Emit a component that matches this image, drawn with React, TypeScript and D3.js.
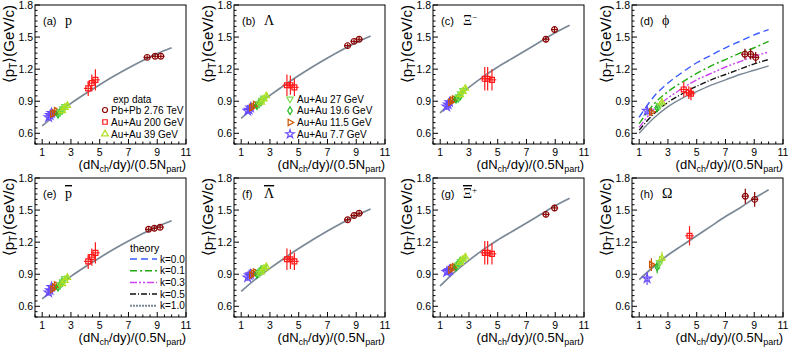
import React, { useEffect, useRef } from 'react';
import * as d3 from 'd3';

// theory curves, read at dNch/dy/(0.5Npart) = 1..10
const xCurve = [1, 2, 3, 4, 5, 6, 7, 8, 9, 10];
const curveP = [0.67, 0.78, 0.88, 0.97, 1.055, 1.135, 1.21, 1.28, 1.345, 1.4];
const curveLam = [0.74, 0.855, 0.955, 1.05, 1.14, 1.225, 1.305, 1.38, 1.45, 1.51];
const curveXi = [0.79, 0.92, 1.03, 1.13, 1.22, 1.3, 1.38, 1.46, 1.54, 1.61];
const curveOmega = [0.85, 0.97, 1.08, 1.17, 1.26, 1.35, 1.44, 1.52, 1.61, 1.69];
const phiK00 = [0.75, 0.94, 1.07, 1.17, 1.26, 1.33, 1.4, 1.46, 1.52, 1.57];
const phiK01 = [0.69, 0.87, 0.99, 1.08, 1.16, 1.23, 1.29, 1.35, 1.4, 1.46];
const phiK03 = [0.655, 0.82, 0.93, 1.02, 1.1, 1.16, 1.22, 1.27, 1.32, 1.36];
const phiK05 = [0.63, 0.78, 0.89, 0.97, 1.04, 1.1, 1.15, 1.2, 1.25, 1.29];
const phiK10 = [0.6, 0.74, 0.85, 0.93, 0.99, 1.05, 1.1, 1.15, 1.19, 1.23];

const kLabels = ['k=0.0', 'k=0.1', 'k=0.3', 'k=0.5', 'k=1.0'];
const kColors = ['#3a5cff', '#22aa11', '#cc44ee', '#111111', '#7a8896'];
const kDash = ['7,4', '7,3,2,3', '7,2,2,2,2,2', '6,2,1,2', '2,1'];

// panels a..h
const panelTags = ['(a)', '(b)', '(c)', '(d)', '(e)', '(f)', '(g)', '(h)'];
const particleNames = ['p', 'Λ', 'Ξ', 'ϕ', 'p', 'Λ', 'Ξ', 'Ω'];
const particleCharge = ['', '', '−', '', '', '', '+', ''];
const particleAnti = [false, false, false, false, true, true, true, false];
const panelCurves = [curveP, curveLam, curveXi, null, curveP, curveLam, curveXi, curveOmega];
const phiCurves = [phiK00, phiK01, phiK03, phiK05, phiK10];

// Pb+Pb 2.76 TeV : [x, <pT>, err]
const pbpbPoints = [
  [[8.3, 1.31, 0.02], [8.85, 1.32, 0.02], [9.25, 1.32, 0.02]],
  [[8.4, 1.42, 0.02], [8.85, 1.46, 0.02], [9.2, 1.48, 0.02]],
  [[8.35, 1.48, 0.03], [8.95, 1.57, 0.03]],
  [[8.35, 1.34, 0.05], [8.75, 1.34, 0.05], [9.1, 1.31, 0.05]],
  [[8.4, 1.32, 0.02], [8.8, 1.33, 0.02], [9.2, 1.34, 0.02]],
  [[8.4, 1.41, 0.02], [8.85, 1.45, 0.02], [9.2, 1.47, 0.02]],
  [[8.35, 1.46, 0.03], [8.95, 1.52, 0.03]],
  [[8.38, 1.63, 0.07], [9.03, 1.6, 0.07]],
];

// Au+Au 200 GeV : [x, <pT>, err]
const au200Points = [
  [[4.2, 1.02, 0.07], [4.45, 1.07, 0.08], [4.7, 1.1, 0.1]],
  [[4.18, 1.05, 0.1], [4.42, 1.05, 0.09], [4.7, 1.03, 0.08]],
  [[4.1, 1.11, 0.11], [4.3, 1.11, 0.11], [4.6, 1.1, 0.1]],
  [[4.1, 1.01, 0.07], [4.45, 0.98, 0.06], [4.6, 0.97, 0.06]],
  [[4.2, 1.02, 0.07], [4.45, 1.06, 0.08], [4.7, 1.1, 0.1]],
  [[4.18, 1.04, 0.1], [4.42, 1.04, 0.09], [4.7, 1.02, 0.08]],
  [[4.1, 1.1, 0.11], [4.3, 1.1, 0.11], [4.6, 1.09, 0.1]],
  [[4.5, 1.26, 0.09]],
];

// BES energies: 7.7, 11.5, 19.6, 27, 39 GeV
const besLabels = ['Au+Au 7.7 GeV', 'Au+Au 11.5 GeV', 'Au+Au 19.6 GeV', 'Au+Au 27 GeV', 'Au+Au 39 GeV'];
const besColors = ['#6a4cff', '#cc5500', '#22bb22', '#7fdd55', '#aee020'];
const besX = [
  [1.45, 1.55, 1.65],
  [1.72, 1.85, 1.98],
  [2.1, 2.25, 2.4],
  [2.25, 2.42, 2.58],
  [2.4, 2.58, 2.75],
];
const besY = [
  [[0.75, 0.77, 0.79], [0.78, 0.79, 0.81], [0.78, 0.8, 0.82], [0.8, 0.83, 0.85], [0.81, 0.84, 0.86]],
  [[0.81, 0.82, 0.84], [0.84, 0.85, 0.87], [0.86, 0.88, 0.9], [0.88, 0.91, 0.93], [0.89, 0.92, 0.95]],
  [[0.85, 0.87, 0.89], [0.89, 0.91, 0.92], [0.92, 0.93, 0.95], [0.94, 0.97, 1.0], [0.96, 0.99, 1.02]],
  [[0.81], [0.8], [0.84], [0.86], [0.89]],
  [[0.73, 0.75, 0.78], [0.76, 0.78, 0.8], [0.78, 0.8, 0.83], [0.8, 0.83, 0.86], [0.81, 0.84, 0.87]],
  [[0.87, 0.89, 0.9], [0.89, 0.91, 0.92], [0.9, 0.92, 0.94], [0.91, 0.93, 0.96], [0.92, 0.95, 0.97]],
  [[0.92, 0.93, 0.94], [0.94, 0.96, 0.97], [0.97, 1.0, 1.02], [0.99, 1.02, 1.04], [1.01, 1.04, 1.06]],
  [[0.86], [0.99], [0.97], [1.01], [1.05]],
];
const besErr = [0.03, 0.03, 0.03, 0.04, 0.03, 0.03, 0.03, 0.06];

const yTicks = [0.6, 0.9, 1.2, 1.5, 1.8];
const xTicks = [1, 3, 5, 7, 9, 11];

const SANS = 'Arial, "Liberation Sans", Helvetica, sans-serif';
const SERIF = '"Liberation Serif", "Times New Roman", serif';

const pbpbColor = '#8b0000';
const au200Color = '#ff1a1a';

const besShape = (i: number) =>
  [d3.symbolStar, d3.symbolTriangle, d3.symbolDiamond, d3.symbolTriangle, d3.symbolTriangle][i];
const besRot = [0, 90, 0, 180, 0];

const App = () => {
  const ref = useRef<SVGSVGElement | null>(null);

  useEffect(() => {
    const svg = d3.select(ref.current);
    svg.selectAll('*').remove();

    const colLeft = [35, 234, 433, 632];
    const rowTop = [5, 178];
    const pw = 151;
    const ph = 139;

    const marker = (g: any, shape: any, size: number, cx: number, cy: number, color: string, rot = 0) => {
      g.append('path')
        .attr('d', d3.symbol().type(shape).size(size)())
        .attr('transform', `translate(${cx},${cy}) rotate(${rot})`)
        .attr('fill', 'none')
        .attr('stroke', color)
        .attr('stroke-width', 1.2);
    };

    const errBar = (g: any, x: any, y: any, px: number, py: number, ex: number, ey: number, color: string) => {
      g.append('line')
        .attr('x1', x(px)).attr('x2', x(px))
        .attr('y1', y(py - ey)).attr('y2', y(py + ey))
        .attr('stroke', color).attr('stroke-width', 1.2);
      g.append('line')
        .attr('x1', x(px - ex)).attr('x2', x(px + ex))
        .attr('y1', y(py)).attr('y2', y(py))
        .attr('stroke', color).attr('stroke-width', 1.1);
    };

    panelTags.forEach((tag, i) => {
      const left = colLeft[i % 4];
      const top = rowTop[Math.floor(i / 4)];
      const x = d3.scaleLinear().domain([0.5, 11]).range([left, left + pw]);
      const y = d3.scaleLinear().domain([0.5, 1.8]).range([top + ph, top]);
      const g = svg.append('g');

      // frame
      g.append('rect')
        .attr('x', left).attr('y', top).attr('width', pw).attr('height', ph)
        .attr('fill', 'none').attr('stroke', '#000').attr('stroke-width', 1);

      // y ticks
      d3.range(0.5, 1.8001, 0.05).forEach((v) => {
        const major = yTicks.some((t) => Math.abs(t - v) < 1e-6);
        g.append('line')
          .attr('x1', left).attr('x2', left + (major ? 5 : 2.5))
          .attr('y1', y(v)).attr('y2', y(v))
          .attr('stroke', '#000').attr('stroke-width', 1);
      });
      yTicks.forEach((t) => {
        g.append('text')
          .attr('x', left - 2).attr('y', y(t) + 3.5)
          .attr('text-anchor', 'end')
          .attr('font-family', SANS).attr('font-size', 10.5)
          .text(d3.format('.1f')(t));
      });

      // x ticks
      d3.range(0.5, 11.001, 0.5).forEach((v) => {
        const major = xTicks.includes(v);
        g.append('line')
          .attr('x1', x(v)).attr('x2', x(v))
          .attr('y1', top + ph).attr('y2', top + ph - (major ? 5 : 2.5))
          .attr('stroke', '#000').attr('stroke-width', 1);
      });
      xTicks.forEach((t) => {
        g.append('text')
          .attr('x', x(t)).attr('y', top + ph + 12)
          .attr('text-anchor', 'middle')
          .attr('font-family', SANS).attr('font-size', 10.5)
          .text(t);
      });

      // axis titles
      const xt = g.append('text')
        .attr('x', left + pw).attr('y', top + ph + 25)
        .attr('text-anchor', 'end')
        .attr('font-family', SANS).attr('font-size', 13);
      xt.append('tspan').text('(dN');
      xt.append('tspan').attr('font-size', 9).attr('dy', 3).text('ch');
      xt.append('tspan').attr('dy', -3).text('/dy)/(0.5N');
      xt.append('tspan').attr('font-size', 9).attr('dy', 3).text('part');
      xt.append('tspan').attr('dy', -3).text(')');

      const yt = g.append('text')
        .attr('transform', `translate(${left - 21},${top}) rotate(-90)`)
        .attr('text-anchor', 'end')
        .attr('font-family', SANS).attr('font-size', 15);
      yt.append('tspan').text('⟨p');
      yt.append('tspan').attr('font-size', 10).attr('dy', 3).text('T');
      yt.append('tspan').attr('dy', -3).text('⟩(GeV/c)');

      // panel label
      g.append('text')
        .attr('x', left + 8).attr('y', top + 20)
        .attr('font-family', SANS).attr('font-size', 11)
        .text(tag);
      const pl = g.append('text')
        .attr('x', left + 30).attr('y', top + 20)
        .attr('font-family', SERIF).attr('font-size', 14);
      pl.append('tspan')
        .attr('text-decoration', particleAnti[i] ? 'overline' : null)
        .text(particleNames[i]);
      if (particleCharge[i]) {
        pl.append('tspan').attr('font-size', 9).attr('dy', -5).text(particleCharge[i]);
      }

      // theory curves
      const line = d3.line<number>()
        .x((_, j) => x(xCurve[j]))
        .y((d) => y(d))
        .curve(d3.curveMonotoneX);
      const curves = panelCurves[i];
      if (curves) {
        g.append('path').attr('d', line(curves))
          .attr('fill', 'none').attr('stroke', kColors[4]).attr('stroke-width', 1.7);
      } else {
        phiCurves.forEach((c, k) => {
          g.append('path').attr('d', line(c))
            .attr('fill', 'none').attr('stroke', kColors[k]).attr('stroke-width', 1.4)
            .attr('stroke-dasharray', k === 4 ? null : kDash[k]);
        });
      }

      // BES data
      besY[i].forEach((ys, e) => {
        const xs = ys.length === 1 ? [besX[e][1]] : besX[e];
        ys.forEach((v, j) => {
          errBar(g, x, y, xs[j], v, 0.08, besErr[i], besColors[e]);
        });
      });
      besY[i].forEach((ys, e) => {
        const xs = ys.length === 1 ? [besX[e][1]] : besX[e];
        ys.forEach((v, j) => {
          marker(g, besShape(e), e === 0 ? 24 : 18, x(xs[j]), y(v), besColors[e], besRot[e]);
        });
      });

      // Au+Au 200
      au200Points[i].forEach(([px, py, ey]) => {
        errBar(g, x, y, px, py, 0.3, ey, au200Color);
        marker(g, d3.symbolSquare, 24, x(px), y(py), au200Color);
      });

      // Pb+Pb
      pbpbPoints[i].forEach(([px, py, ey]) => {
        errBar(g, x, y, px, py, 0.25, ey, pbpbColor);
        marker(g, d3.symbolCircle, 26, x(px), y(py), pbpbColor);
      });
    });

    // legend (a): exp data
    const la = svg.append('g');
    la.append('text').attr('x', 113).attr('y', 103)
      .attr('font-family', SANS).attr('font-size', 10).text('exp data');
    const aEntries = [
      { label: 'Pb+Pb 2.76 TeV', color: pbpbColor, shape: d3.symbolCircle, rot: 0 },
      { label: 'Au+Au 200 GeV', color: au200Color, shape: d3.symbolSquare, rot: 0 },
      { label: besLabels[4], color: besColors[4], shape: besShape(4), rot: besRot[4] },
    ];
    aEntries.forEach((d, j) => {
      const cy = 110 + j * 12;
      marker(la, d.shape, 20, 105, cy, d.color, d.rot);
      la.append('text').attr('x', 111).attr('y', cy + 3.5)
        .attr('font-family', SANS).attr('font-size', 10).text(d.label);
    });

    // legend (b): BES energies
    const lb = svg.append('g');
    [3, 2, 1, 0].forEach((e, j) => {
      const cy = 99 + j * 11.7;
      marker(lb, besShape(e), e === 0 ? 22 : 18, 290, cy, besColors[e], besRot[e]);
      lb.append('text').attr('x', 297).attr('y', cy + 3.5)
        .attr('font-family', SANS).attr('font-size', 10).text(besLabels[e]);
    });

    // legend (e): theory
    const le = svg.append('g');
    le.append('text').attr('x', 130).attr('y', 252)
      .attr('font-family', SANS).attr('font-size', 10.5).text('theory');
    kLabels.forEach((lab, k) => {
      const cy = 259 + k * 11.7;
      le.append('line').attr('x1', 130).attr('x2', 157).attr('y1', cy).attr('y2', cy)
        .attr('stroke', kColors[k]).attr('stroke-width', k === 4 ? 2 : 1.5)
        .attr('stroke-dasharray', kDash[k]);
      le.append('text').attr('x', 160).attr('y', cy + 3.5)
        .attr('font-family', SANS).attr('font-size', 10).text(lab);
    });
  }, []);

  return (
    <div style={{ position: 'fixed', left: 0, top: 0, width: 789, height: 348, background: '#fff' }}>
      <svg ref={ref} width={789} height={348} />
    </div>
  );
};

export default App;
